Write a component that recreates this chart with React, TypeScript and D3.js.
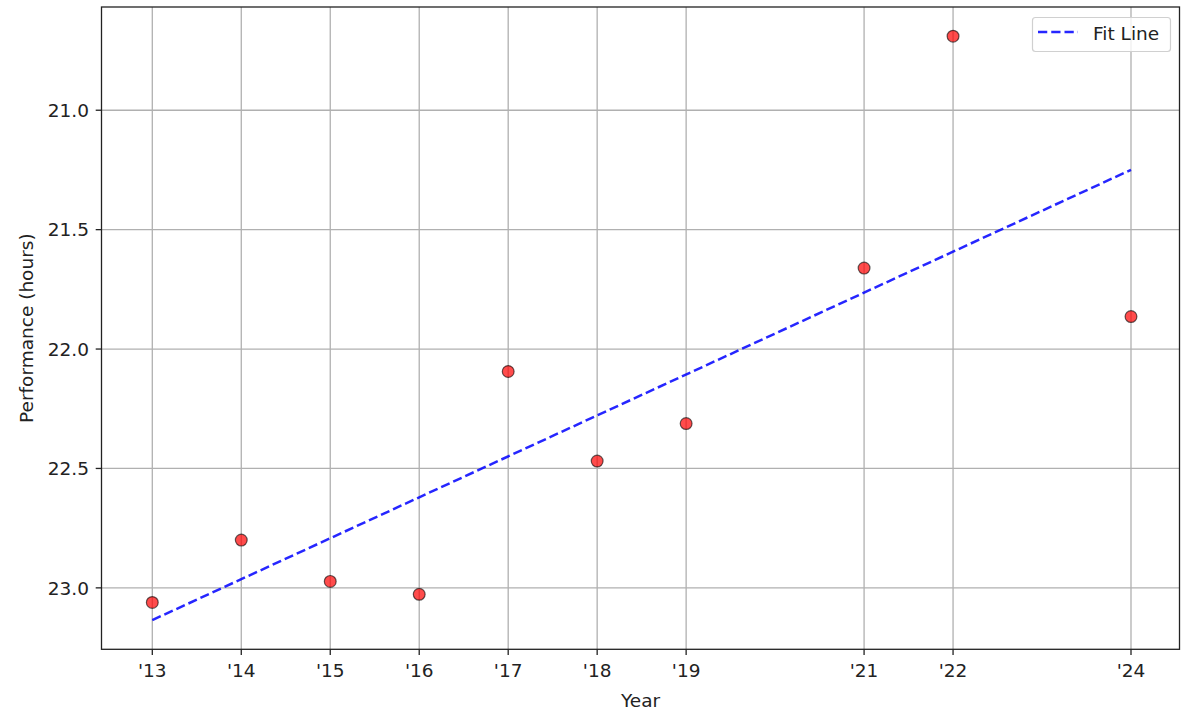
import React, { useEffect, useRef } from "react";
import * as d3 from "d3";

const years = [2013, 2014, 2015, 2016, 2017, 2018, 2019, 2021, 2022, 2024];
const performance = [23.061, 22.8, 22.973, 23.027, 22.094, 22.469, 22.312, 21.661, 20.69, 21.864];
const yTicks = [21.0, 21.5, 22.0, 22.5, 23.0];
const seriesLabel = "Fit Line";
const xLabel = "Year";
const yLabel = "Performance (hours)";

const W = 1200;
const H = 717;
const M = { left: 101.5, right: 1179.5, top: 7, bottom: 649.3 };
const FONT = "DejaVu Sans, sans-serif";
const FS = 18.5;

export default function App() {
  const ref = useRef<SVGSVGElement | null>(null);

  useEffect(() => {
    document.body.style.margin = "0";
    const svg = d3.select(ref.current!);
    svg.selectAll("*").remove();

    // least squares fit
    const mx = d3.mean(years)!;
    const my = d3.mean(performance)!;
    let sxy = 0, sxx = 0;
    years.forEach((x, i) => {
      sxy += (x - mx) * (performance[i] - my);
      sxx += (x - mx) * (x - mx);
    });
    const slope = sxy / sxx;
    const icpt = my - slope * mx;
    const fit = years.map((x) => ({ x, y: icpt + slope * x }));

    const xMin = d3.min(years)!, xMax = d3.max(years)!;
    const allY = performance.concat(fit.map((d) => d.y));
    const yMin = d3.min(allY)!, yMax = d3.max(allY)!;
    const yPad = (yMax - yMin) * 0.05;

    const x = d3.scaleLinear().domain([xMin, xMax]).range([152.3, 1131]);
    const y = d3.scaleLinear().domain([yMin - yPad, yMax + yPad]).range([M.top, M.bottom]);

    // grid
    const g = svg.append("g");
    g.selectAll("line.vg").data(years).enter().append("line")
      .attr("x1", (d) => x(d)).attr("x2", (d) => x(d))
      .attr("y1", M.top).attr("y2", M.bottom)
      .attr("stroke", "#b0b0b0").attr("stroke-width", 1.3);
    g.selectAll("line.hg").data(yTicks).enter().append("line")
      .attr("y1", (d) => y(d)).attr("y2", (d) => y(d))
      .attr("x1", M.left).attr("x2", M.right)
      .attr("stroke", "#b0b0b0").attr("stroke-width", 1.3);

    // fit line
    const line = d3.line<{ x: number; y: number }>().x((d) => x(d.x)).y((d) => y(d.y));
    svg.append("path").datum([fit[0], fit[fit.length - 1]])
      .attr("d", line as any)
      .attr("fill", "none").attr("stroke", "blue").attr("stroke-opacity", 0.85)
      .attr("stroke-width", 2.5).attr("stroke-dasharray", "9.25,4");

    // points
    svg.selectAll("circle.pt").data(years).enter().append("circle")
      .attr("cx", (d) => x(d)).attr("cy", (d, i) => y(performance[i]))
      .attr("r", 5.9)
      .attr("fill", "rgb(255,0,0)").attr("fill-opacity", 0.7)
      .attr("stroke", "black").attr("stroke-opacity", 0.6).attr("stroke-width", 1.2);

    // spines
    svg.append("rect").attr("x", M.left).attr("y", M.top)
      .attr("width", M.right - M.left).attr("height", M.bottom - M.top)
      .attr("fill", "none").attr("stroke", "#222").attr("stroke-width", 1.3);

    // x ticks
    years.forEach((d) => {
      svg.append("line").attr("x1", x(d)).attr("x2", x(d))
        .attr("y1", M.bottom).attr("y2", M.bottom + 5.8)
        .attr("stroke", "#222").attr("stroke-width", 1.3);
      svg.append("text").attr("x", x(d)).attr("y", 677)
        .attr("text-anchor", "middle").attr("font-family", FONT).attr("font-size", FS)
        .attr("fill", "#222").text("'" + String(d).slice(2));
    });
    // y ticks
    yTicks.forEach((d) => {
      svg.append("line").attr("x1", M.left - 5.8).attr("x2", M.left)
        .attr("y1", y(d)).attr("y2", y(d))
        .attr("stroke", "#222").attr("stroke-width", 1.3);
      svg.append("text").attr("x", M.left - 12.5).attr("y", y(d)).attr("dy", "0.36em")
        .attr("text-anchor", "end").attr("font-family", FONT).attr("font-size", FS)
        .attr("fill", "#222").text(d.toFixed(1));
    });

    // axis labels
    svg.append("text").attr("x", (M.left + M.right) / 2).attr("y", 707)
      .attr("text-anchor", "middle").attr("font-family", FONT).attr("font-size", FS)
      .attr("fill", "#222").text(xLabel);
    svg.append("text").attr("transform", `translate(32.5,${(M.top + M.bottom) / 2}) rotate(-90)`)
      .attr("text-anchor", "middle").attr("font-family", FONT).attr("font-size", FS)
      .attr("fill", "#222").text(yLabel);

    // legend
    const lg = svg.append("g");
    lg.append("rect").attr("x", 1032.5).attr("y", 17.5).attr("width", 138).attr("height", 34)
      .attr("rx", 3).attr("fill", "white").attr("fill-opacity", 0.8)
      .attr("stroke", "#d0d0d0").attr("stroke-width", 1.2);
    lg.append("line").attr("x1", 1038).attr("x2", 1078).attr("y1", 32).attr("y2", 32)
      .attr("stroke", "blue").attr("stroke-opacity", 0.85).attr("stroke-width", 2.5)
      .attr("stroke-dasharray", "9.25,4");
    lg.append("text").attr("x", 1093).attr("y", 33).attr("dy", "0.36em")
      .attr("font-family", FONT).attr("font-size", FS).attr("fill", "#222").text(seriesLabel);
  }, []);

  return <svg ref={ref} width={W} height={H} style={{ display: "block" }} />;
}
